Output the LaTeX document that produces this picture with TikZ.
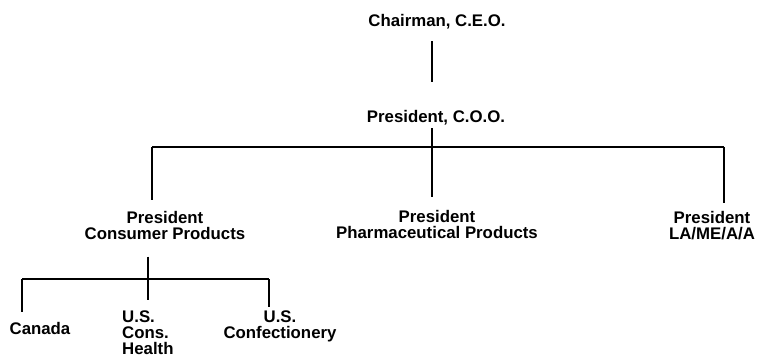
\documentclass[tikz,border=0pt]{standalone}
\usepackage{fontspec}
\setmainfont{Liberation Sans}
\begin{document}
\begin{tikzpicture}[x=1pt,y=-1pt,
  lbl/.style={inner sep=0pt, anchor=north, align=center,
    font=\fontsize{16.8}{16}\selectfont\bfseries},
  lnk/.style={line width=2pt}]
\useasboundingbox[fill=white] (0,0) rectangle (757,363);
% text nodes
\node[lbl] (ceo) at (437,14) {Chairman, C.E.O.};
\node[lbl] (coo) at (436,110) {President, C.O.O.};
\node[lbl] (cp)  at (165,211) {President\\Consumer Products};
\node[lbl] (pp)  at (437,210) {President\\Pharmaceutical Products};
\node[lbl] (la)  at (712,211) {President\\LA/ME/A/A};
\node[lbl] (can) at (40,322) {Canada};
\node[lbl, anchor=north west, align=left] (uch) at (122,311) {U.S.\\Cons.\\Health};
\node[lbl] (ucf) at (280,311) {U.S.\\Confectionery};
% junctions
\coordinate (j0) at (432,147);
\coordinate (j1) at (152,147);
\coordinate (j3) at (724,147);
\coordinate (k0) at (148,279);
\coordinate (k1) at (22,279);
\coordinate (k3) at (269,279);
% connectors
\draw[lnk, shorten <=12pt, shorten >=28pt] (ceo.south -| j0) -- (coo.north -| j0);
\draw[lnk, shorten <=3pt, shorten >=13pt] (coo.south -| j0) -- (pp.north -| j0);
\draw[lnk] (j1) -- (j3);
\draw[lnk, shorten >=11pt] (j1) -- (j1 |- cp.north);
\draw[lnk, shorten >=8pt] (j3) -- (j3 |- la.north);
\draw[lnk, shorten <=17pt, shorten >=11pt] (cp.south -| k0) -- (uch.north -| k0);
\draw[lnk] (k1) -- (k3);
\draw[lnk, shorten >=10pt] (k1) -- (k1 |- can.north);
\draw[lnk, shorten >=4pt] (k3) -- (k3 |- ucf.north);
\end{tikzpicture}
\end{document}
